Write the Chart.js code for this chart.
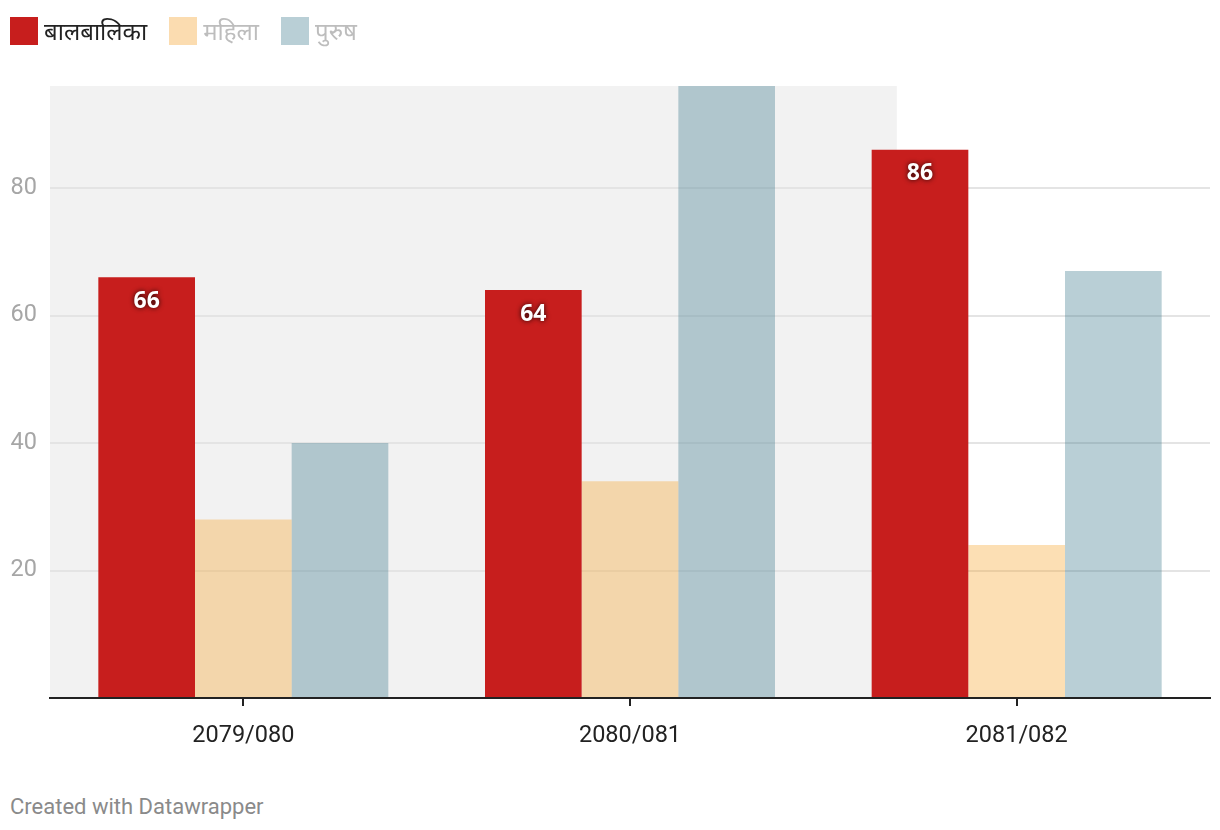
<!DOCTYPE html>
<html>
<head>
<meta charset="utf-8">
<script src="https://cdn.jsdelivr.net/npm/chart.js@4"></script>
<style>
  body { margin: 0; background: #fff; font-family: Roboto, "Noto Sans", sans-serif; }
  #wrap { position: relative; width: 1220px; height: 830px; }
  #legend { position: absolute; left: 10px; top: 14px; display: flex; align-items: center; font-family: "Noto Sans", Roboto, sans-serif; font-size: 24px; }
  .item { display: flex; align-items: center; margin-right: 22px; }
  .box { width: 28px; height: 28px; margin-right: 6px; }
  #chartbox { position: absolute; left: 0; top: 0; width: 1220px; height: 770px; }
  #credit { position: absolute; left: 10px; top: 794px; font-size: 22px; color: #8a8a8a; }
</style>
</head>
<body>
<div id="wrap">
  <div id="chartbox"><canvas id="chart"></canvas></div>
  <div id="legend"></div>
  <div id="credit">Created with Datawrapper</div>
</div>
<script>
// data
const years = ['2079/080', '2080/081', '2081/082'];
const seriesNames = ['बालबालिका', 'महिला', 'पुरुष'];
const balbalika = [66, 64, 86];
const mahila = [28, 34, 24];
const purush = [40, 96, 67];
const yTicks = [0, 20, 40, 60, 80];

// highlighted range (category index units)
const highlightFrom = -0.5;
const highlightTo = 1.69;

const colors = ['#c71e1d', 'rgba(246,160,34,0.34)', 'rgba(55,118,138,0.35)'];
const legendBoxes = ['#c71e1d', '#fbdcb0', '#b9cfd6'];
const legendText = ['#222', '#bdbdbd', '#bdbdbd'];

// html legend
let leg = '';
seriesNames.forEach((n, i) => {
  leg += '<div class="item"><div class="box" style="background:' + legendBoxes[i] + '"></div>';
  leg += '<span style="color:' + legendText[i] + '">' + n + '</span></div>';
});
document.getElementById('legend').innerHTML = leg;

const band = {
  id: 'band',
  beforeDraw(chart) {
    const { ctx, chartArea, scales: { x } } = chart;
    const x0 = Math.max(chartArea.left, x.getPixelForValue(highlightFrom));
    const x1 = x.getPixelForValue(highlightTo);
    ctx.save();
    ctx.fillStyle = '#f2f2f2';
    ctx.fillRect(x0, chartArea.top, x1 - x0, chartArea.bottom - chartArea.top);
    ctx.restore();
  }
};

const valueLabels = {
  id: 'valueLabels',
  afterDatasetsDraw(chart) {
    const ctx = chart.ctx;
    const meta = chart.getDatasetMeta(0);
    ctx.save();
    ctx.font = 'bold 23px "Noto Sans", Roboto, sans-serif';
    ctx.fillStyle = '#fff';
    ctx.textAlign = 'center';
    ctx.textBaseline = 'middle';
    ctx.shadowColor = 'rgba(0,0,0,0.85)';
    ctx.shadowBlur = 5;
    meta.data.forEach((bar, i) => {
      ctx.fillText(balbalika[i], bar.x, bar.y + 24);
    });
    ctx.restore();
  }
};

new Chart(document.getElementById('chart'), {
  type: 'bar',
  data: {
    labels: years,
    datasets: [
      { label: seriesNames[0], data: balbalika, backgroundColor: colors[0] },
      { label: seriesNames[1], data: mahila, backgroundColor: colors[1] },
      { label: seriesNames[2], data: purush, backgroundColor: colors[2] }
    ]
  },
  options: {
    responsive: true,
    maintainAspectRatio: false,
    animation: false,
    categoryPercentage: 0.75,
    barPercentage: 1,
    layout: { padding: { top: 86, left: 10, right: 10, bottom: 10 } },
    plugins: {
      legend: { display: false },
      tooltip: { enabled: false }
    },
    scales: {
      x: {
        grid: { offset: false, drawOnChartArea: false, drawTicks: true, tickLength: 8, color: '#222', lineWidth: 2 },
        border: { color: '#222', width: 2 },
        ticks: { color: '#222', font: { family: 'Roboto', size: 23.5 }, padding: 16 },
        afterFit: s => { s.height = 62; }
      },
      y: {
        min: 0,
        max: 96,
        afterBuildTicks: s => { s.ticks = yTicks.map(v => ({ value: v })); },
        grid: {
          drawTicks: false,
          lineWidth: 2,
          color: c => (c.tick && c.tick.value === 0) ? 'rgba(0,0,0,0)' : '#e4e4e4'
        },
        border: { display: false },
        ticks: {
          color: '#a6a6a6',
          font: { family: 'Roboto', size: 23.5 },
          padding: 13,
          callback: v => v === 0 ? '' : v
        },
        afterFit: s => { s.width = 40; }
      }
    }
  },
  plugins: [band, valueLabels]
});
</script>
</body>
</html>
